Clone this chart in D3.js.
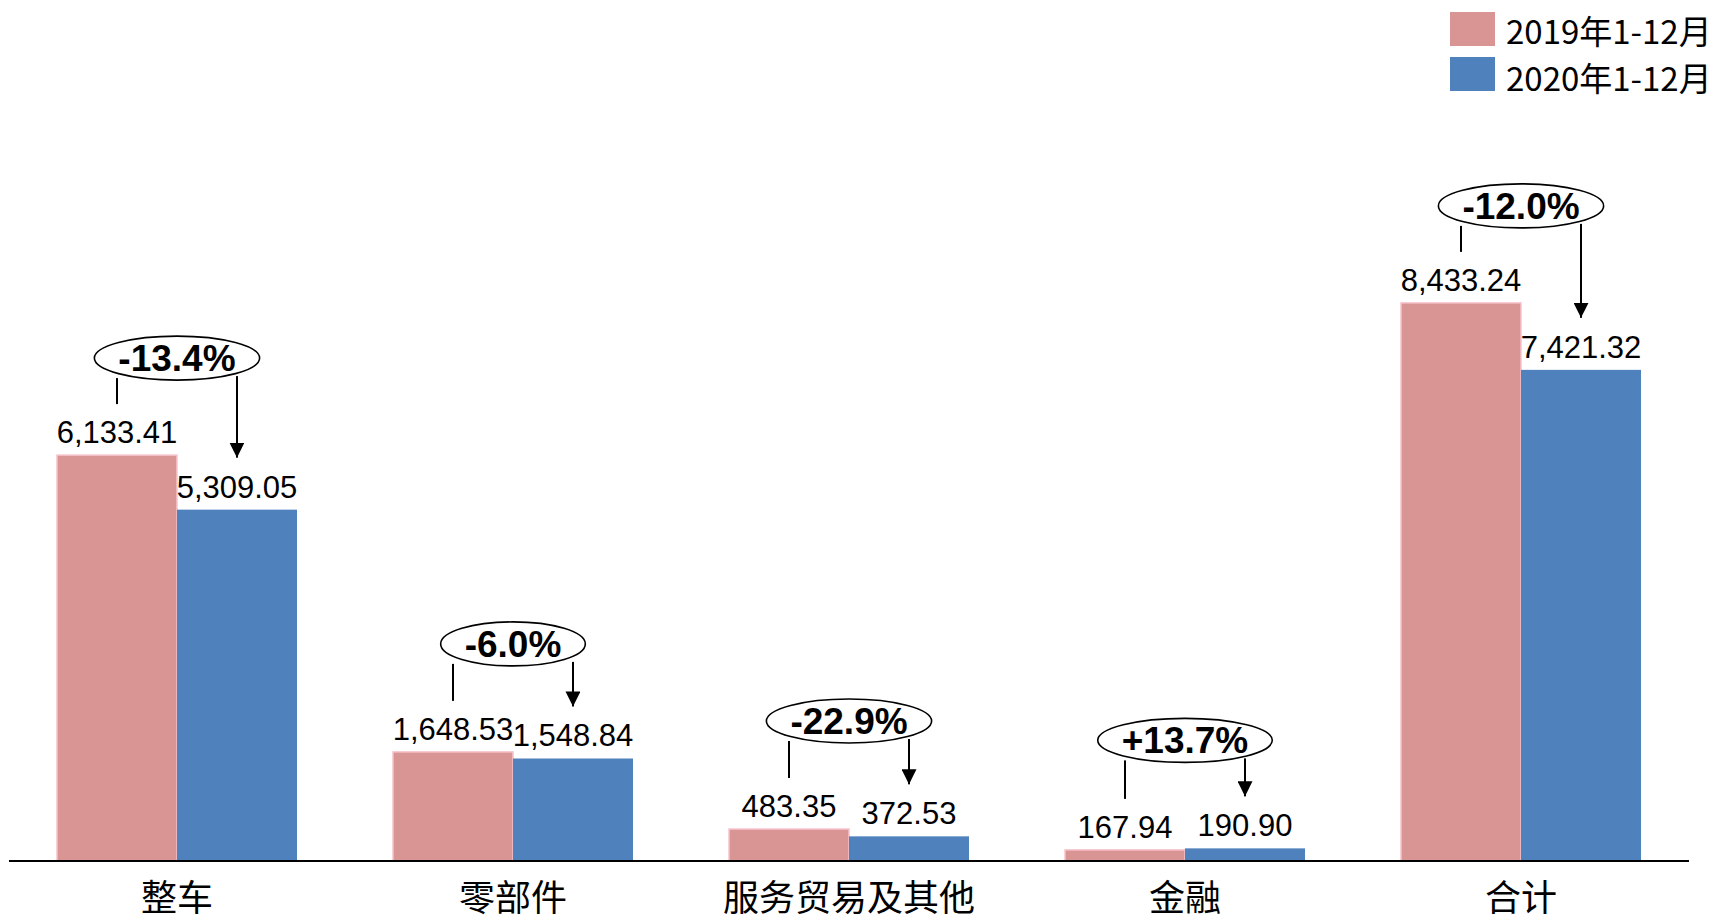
<!DOCTYPE html>
<html>
<head>
<meta charset="utf-8">
<script src="https://cdn.jsdelivr.net/npm/d3@7"></script>
<style>
  html, body { margin: 0; padding: 0; background: #fff; }
  svg { display: block; }
</style>
</head>
<body>
<svg id="chart" width="1716" height="919"></svg>
<script>
const categories = ["整车", "零部件", "服务贸易及其他", "金融", "合计"];
const values2019 = [6133.41, 1648.53, 483.35, 167.94, 8433.24];
const values2020 = [5309.05, 1548.84, 372.53, 190.90, 7421.32];
const changeLabels = ["-13.4%", "-6.0%", "-22.9%", "+13.7%", "-12.0%"];
const seriesNames = ["2019年1-12月", "2020年1-12月"];

const pink = "#d99594", blue = "#4f81bd";
const numFont = "'Liberation Sans', Arial, sans-serif";
const cjkFont = "'Noto Sans CJK SC', sans-serif";

const svg = d3.select("#chart");
const baseY = 861;

const x = d3.scaleBand()
  .domain(categories)
  .range([9, 1689])
  .paddingInner(0.2857)
  .paddingOuter(0.1428);
const barW = x.bandwidth() / 2;

const y = d3.scaleLinear()
  .domain([0, 9000])
  .range([baseY, baseY - 9000 * 0.06618]);

const fmt = d3.format(",.2f");

const rows = categories.map((c, i) => ({
  cat: c, v19: values2019[i], v20: values2020[i], change: changeLabels[i]
}));

const groups = svg.selectAll("g.grp")
  .data(rows)
  .enter().append("g")
  .attr("class", "grp");

// bars
groups.append("rect")
  .attr("x", d => x(d.cat))
  .attr("y", d => y(d.v19))
  .attr("width", barW)
  .attr("height", d => baseY - y(d.v19))
  .style("fill", pink)
  .style("stroke", "#f7c3cc")
  .style("stroke-width", 1.5);

groups.append("rect")
  .attr("x", d => x(d.cat) + barW)
  .attr("y", d => y(d.v20))
  .attr("width", barW)
  .attr("height", d => baseY - y(d.v20))
  .style("fill", blue);

// value labels
groups.append("text")
  .attr("x", d => x(d.cat) + barW / 2)
  .attr("y", d => y(d.v19) - 12)
  .attr("text-anchor", "middle")
  .style("font-family", numFont)
  .style("font-size", "31px")
  .text(d => fmt(d.v19));

groups.append("text")
  .attr("x", d => x(d.cat) + barW * 1.5)
  .attr("y", d => y(d.v20) - 12)
  .attr("text-anchor", "middle")
  .style("font-family", numFont)
  .style("font-size", "31px")
  .text(d => fmt(d.v20));

// axis line
svg.append("line")
  .attr("x1", 9).attr("x2", 1689)
  .attr("y1", baseY).attr("y2", baseY)
  .style("stroke", "#000")
  .style("stroke-width", 2);

// category labels
groups.append("text")
  .attr("x", d => x(d.cat) + x.bandwidth() / 2)
  .attr("y", 911)
  .attr("text-anchor", "middle")
  .style("font-family", cjkFont)
  .style("font-size", "36px")
  .text(d => d.cat);

// change annotations
svg.append("defs").append("marker")
  .attr("id", "arrow")
  .attr("viewBox", "0 0 10 10")
  .attr("refX", 10).attr("refY", 5)
  .attr("markerWidth", 15).attr("markerHeight", 15)
  .attr("markerUnits", "userSpaceOnUse")
  .attr("orient", "auto")
  .append("path")
  .attr("d", "M0,0 L10,5 L0,10 Z")
  .style("fill", "#000");

const ry = 22;
groups.each(function (d) {
  const g = d3.select(this);
  const cx = x(d.cat) + x.bandwidth() / 2;
  const top = y(Math.max(d.v19, d.v20));
  const cy = top - (d.v19 > 3000 ? 97 : 108);

  // left tick from ellipse down toward 2019 label
  g.append("line")
    .attr("x1", x(d.cat) + barW / 2).attr("x2", x(d.cat) + barW / 2)
    .attr("y1", cy + ry - 2).attr("y2", y(d.v19) - 51)
    .style("stroke", "#000").style("stroke-width", 2);

  // arrow down toward 2020 label
  g.append("line")
    .attr("x1", x(d.cat) + barW * 1.5).attr("x2", x(d.cat) + barW * 1.5)
    .attr("y1", cy + ry - 4).attr("y2", y(d.v20) - 52)
    .style("stroke", "#000").style("stroke-width", 2)
    .attr("marker-end", "url(#arrow)");

  const ell = g.append("ellipse")
    .attr("cx", cx).attr("cy", cy)
    .attr("ry", ry)
    .style("fill", "#fff")
    .style("stroke", "#000")
    .style("stroke-width", 1.6);

  const t = g.append("text")
    .attr("x", cx).attr("y", cy + 13)
    .attr("text-anchor", "middle")
    .style("font-family", numFont)
    .style("font-size", "37px")
    .style("font-weight", "bold")
    .text(d.change);

  ell.attr("rx", t.node().getComputedTextLength() / 2 + 24);
});

// legend
const legend = svg.append("g");
seriesNames.forEach((name, i) => {
  legend.append("rect")
    .attr("x", 1450).attr("y", 12 + i * 45)
    .attr("width", 45).attr("height", 34)
    .style("fill", i === 0 ? pink : blue);
  legend.append("text")
    .attr("x", 1506).attr("y", 44 + i * 47)
    .style("font-family", cjkFont)
    .style("font-size", "33px")
    .text(name);
});
</script>
</body>
</html>
